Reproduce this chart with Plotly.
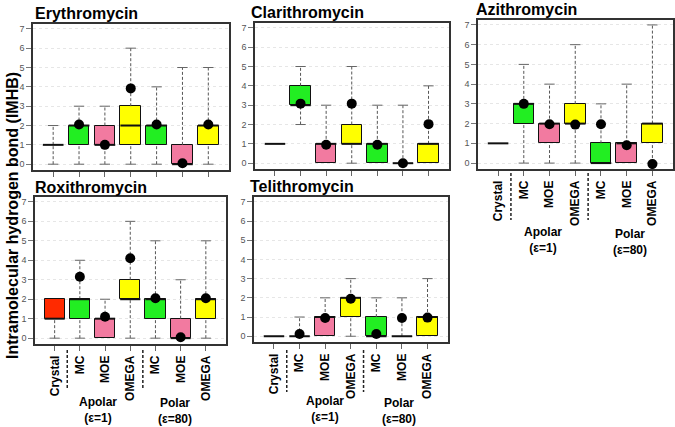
import plotly.graph_objects as go

W, H = 675, 427

categories = ["Crystal", "MC", "MOE", "OMEGA", "MC", "MOE", "OMEGA"]

GREEN = "#22ee22"
PINK = "#f27aa0"
YELLOW = "#ffff00"
RED = "#ff2a00"

# Erythromycin
ery_lower = [0, 0, 0, 0, 0, 0, 0]
ery_q1 = [1, 1, 1, 1, 1, 0, 1]
ery_med = [1, 2, 1, 2, 2, 0, 2]
ery_q3 = [1, 2, 2, 3, 2, 1, 2]
ery_upper = [2, 3, 3, 6, 4, 5, 5]
ery_mean = [None, 2.05, 1.0, 3.92, 2.05, 0.05, 2.05]

# Clarithromycin
cla_lower = [1, 2, 0, 0, 0, 0, 0]
cla_q1 = [1, 3, 0, 1, 0, 0, 0]
cla_med = [1, 3, 1, 1, 1, 0, 1]
cla_q3 = [1, 4, 1, 2, 1, 0, 1]
cla_upper = [1, 5, 3, 5, 3, 3, 4]
cla_mean = [None, 3.08, 0.95, 3.08, 0.95, 0.0, 2.02]

# Azithromycin
azi_lower = [1, 0, 0, 0, 0, 0, 0]
azi_q1 = [1, 2, 1, 2, 0, 0, 1]
azi_med = [1, 3, 2, 2, 0, 1, 2]
azi_q3 = [1, 3, 2, 3, 1, 1, 2]
azi_upper = [1, 5, 4, 6, 3, 4, 7]
azi_mean = [None, 3.0, 1.97, 1.95, 1.97, 0.9, -0.05]

# Roxithromycin
rox_lower = [0, 0, 0, 0, 0, 0, 0]
rox_q1 = [1, 1, 0, 2, 1, 0, 1]
rox_med = [1, 2, 1, 2, 2, 0, 2]
rox_q3 = [2, 2, 1, 3, 2, 1, 2]
rox_upper = [2, 4, 2, 6, 5, 3, 5]
rox_mean = [None, 3.15, 1.1, 4.1, 2.05, 0.05, 2.05]

# Telithromycin
tel_lower = [0, 0, 0, 0, 0, 0, 0]
tel_q1 = [0, 0, 0, 1, 0, 0, 0]
tel_med = [0, 0, 1, 2, 0, 0, 1]
tel_q3 = [0, 0, 1, 2, 1, 0, 1]
tel_upper = [0, 1, 2, 3, 2, 2, 3]
tel_mean = [None, 0.12, 0.95, 1.95, 0.12, 0.95, 0.97]

box_colors = ["#ffffff", GREEN, PINK, YELLOW, GREEN, PINK, YELLOW]
rox_colors = [RED, GREEN, PINK, YELLOW, GREEN, PINK, YELLOW]


def px_x(x):
    return x / W


def px_y(y):
    return 1 - y / H


# title, data, colours, frame (left, top, right, bottom in px), title pos, show labels
panels = [
    ("Erythromycin", ery_lower, ery_q1, ery_med, ery_q3, ery_upper, ery_mean, box_colors,
     (33, 24, 229, 170), (33, 13), False),
    ("Clarithromycin", cla_lower, cla_q1, cla_med, cla_q3, cla_upper, cla_mean, box_colors,
     (255, 23, 449, 169), (249, 12), False),
    ("Azithromycin", azi_lower, azi_q1, azi_med, azi_q3, azi_upper, azi_mean, box_colors,
     (478, 20, 673, 169), (474, 9), True),
    ("Roxithromycin", rox_lower, rox_q1, rox_med, rox_q3, rox_upper, rox_mean, rox_colors,
     (35, 197, 226, 344), (33, 187), True),
    ("Telithromycin", tel_lower, tel_q1, tel_med, tel_q3, tel_upper, tel_mean, box_colors,
     (254, 197, 448, 342), (248, 186), True),
]

# group label positions (px) and separator spans for labelled panels
group_labels = {
    3: [(543, 240, "Apolar<br>(ε=1)"), (630, 242, "Polar<br>(ε=80)")],
    4: [(98, 410, "Apolar<br>(ε=1)"), (175, 411, "Polar<br>(ε=80)")],
    5: [(325, 409, "Apolar<br>(ε=1)"), (399, 411, "Polar<br>(ε=80)")],
}
sep_spans = {3: (173, 220), 4: (350, 390), 5: (350, 392)}

FONT = "Liberation Sans, Arial, sans-serif"

fig = go.Figure()
layout = dict(width=W, height=H, margin=dict(l=0, r=0, t=0, b=0),
              paper_bgcolor="white", plot_bgcolor="white", showlegend=False,
              font=dict(family=FONT), annotations=[], shapes=[], bargap=0)

for k, (title, lo, q1, med, q3, up, mean, cols, frame, tpos, labels) in enumerate(panels, start=1):
    xa = "x" if k == 1 else "x%d" % k
    ya = "y" if k == 1 else "y%d" % k
    pos = list(range(1, len(categories) + 1))

    heights = [b - a if b > a else None for a, b in zip(q1, q3)]
    fig.add_trace(go.Bar(x=pos, y=heights, base=q1, width=0.8,
                         marker=dict(color=cols, line=dict(color="#111", width=1)),
                         xaxis=xa, yaxis=ya, hoverinfo="skip"))

    wx, wy, cx, cy = [], [], [], []
    for p, a, b, c, d in zip(pos, lo, q1, q3, up):
        if d > c:
            wx += [p, p, None]; wy += [c, d, None]
            cx += [p - 0.2, p + 0.2, None]; cy += [d, d, None]
        if a < b:
            wx += [p, p, None]; wy += [a, b, None]
            cx += [p - 0.2, p + 0.2, None]; cy += [a, a, None]
    fig.add_trace(go.Scatter(x=wx, y=wy, mode="lines", xaxis=xa, yaxis=ya,
                             line=dict(color="#555", width=1, dash="3px,2px"), hoverinfo="skip"))
    fig.add_trace(go.Scatter(x=cx, y=cy, mode="lines", xaxis=xa, yaxis=ya,
                             line=dict(color="#666", width=1), hoverinfo="skip"))

    mx, my = [], []
    for p, m in zip(pos, med):
        mx += [p - 0.4, p + 0.4, None]; my += [m, m, None]
    fig.add_trace(go.Scatter(x=mx, y=my, mode="lines", xaxis=xa, yaxis=ya,
                             line=dict(color="#111", width=2), hoverinfo="skip"))

    fig.add_trace(go.Scatter(x=pos, y=mean, mode="markers", xaxis=xa, yaxis=ya,
                             marker=dict(color="black", size=10), hoverinfo="skip"))

    l, t, r, b = frame
    layout["xaxis" if k == 1 else "xaxis%d" % k] = dict(
        domain=[px_x(l), px_x(r)], anchor=ya, range=[0.22, 7.8],
        tickvals=pos, ticktext=categories if labels else [""] * len(pos),
        tickangle=-90, ticks="outside", ticklen=5, tickcolor="#666",
        tickfont=dict(size=12, color="black", family=FONT, weight="bold"),
        showline=True, mirror=True, linecolor="#333", linewidth=1.5,
        showgrid=False, zeroline=False, fixedrange=True)
    layout["yaxis" if k == 1 else "yaxis%d" % k] = dict(
        domain=[px_y(b), px_y(t)], anchor=xa, range=[-0.3, 7.25],
        tickvals=list(range(0, 8)), ticks="outside", ticklen=5, tickcolor="#777",
        tickfont=dict(size=9, color="#555"),
        showline=True, mirror=True, linecolor="#333", linewidth=1.5,
        showgrid=True, gridcolor="#e6e6e6", griddash="dot", gridwidth=1,
        zeroline=False, fixedrange=True)

    layout["annotations"].append(dict(
        text=title, xref="paper", yref="paper", x=px_x(tpos[0]), y=px_y(tpos[1]),
        xanchor="left", yanchor="middle", showarrow=False,
        font=dict(size=16, color="black", family=FONT, weight="bold")))

    if labels:
        for gx, gy, txt in group_labels[k]:
            layout["annotations"].append(dict(
                text=txt, xref="paper", yref="paper", x=px_x(gx), y=px_y(gy),
                xanchor="center", yanchor="middle", showarrow=False,
                font=dict(size=12, color="black", family=FONT, weight="bold")))
        y0, y1 = sep_spans[k]
        for sx in (1.5, 4.5):
            layout["shapes"].append(dict(
                type="line", xref=xa, yref="paper", x0=sx, x1=sx,
                y0=px_y(y0), y1=px_y(y1),
                line=dict(color="#222", width=1.5, dash="3px,2px")))

layout["annotations"].append(dict(
    text="Intramolecular hydrogen bond (IMHB)", xref="paper", yref="paper",
    x=px_x(12), y=px_y(216), xanchor="center", yanchor="middle", textangle=-90,
    showarrow=False, font=dict(size=16, color="black", family=FONT, weight="bold")))

fig.update_layout(**layout)
fig.write_html("out.html", config={"displayModeBar": False},
               post_script="document.body.style.margin='0';")
